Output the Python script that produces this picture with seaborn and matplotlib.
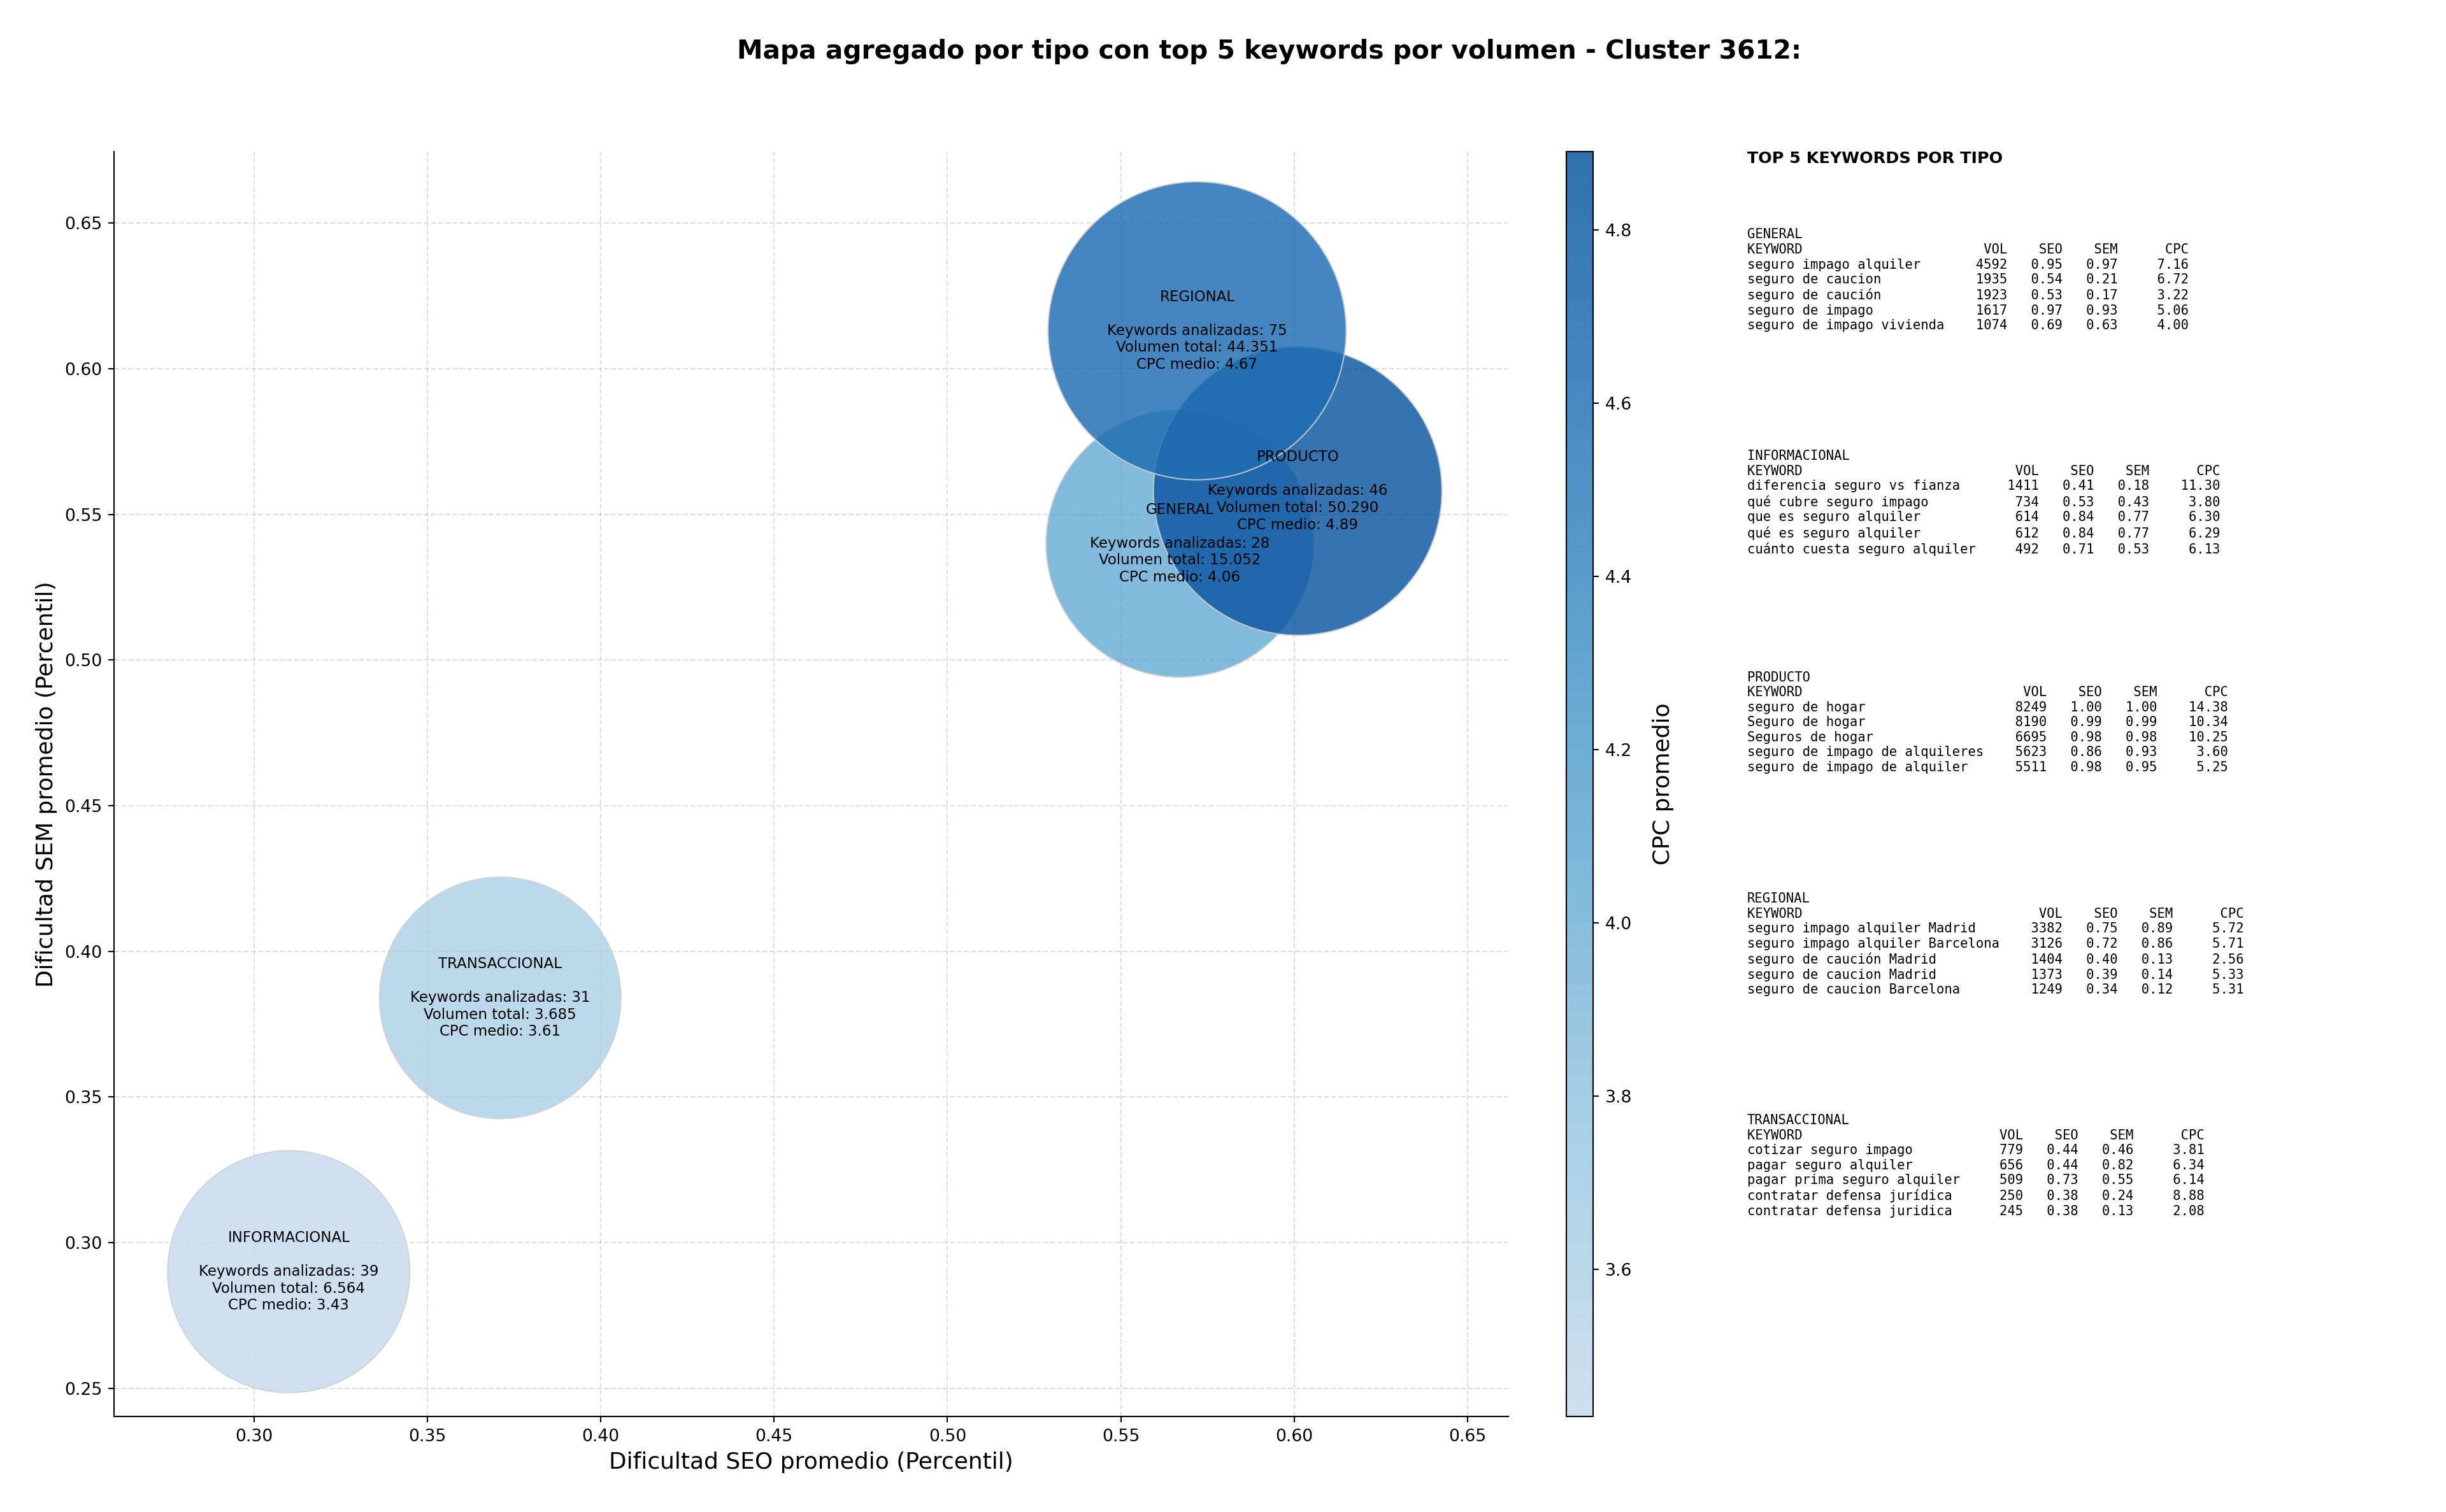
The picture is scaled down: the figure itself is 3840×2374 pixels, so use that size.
import numpy as np
import pandas as pd
import matplotlib
matplotlib.use("Agg")
import matplotlib.pyplot as plt
from matplotlib.colors import LinearSegmentedColormap, Normalize
import matplotlib.cm as cm
import seaborn as sns

# ---------------- data ----------------
tipos = ["GENERAL", "INFORMACIONAL", "PRODUCTO", "REGIONAL", "TRANSACCIONAL"]
seo_avg = [0.567, 0.310, 0.601, 0.572, 0.371]
sem_avg = [0.540, 0.290, 0.558, 0.613, 0.384]
n_keywords = [28, 39, 46, 75, 31]
vol_total = [15052, 6564, 50290, 44351, 3685]
cpc_avg = [4.06, 3.43, 4.89, 4.67, 3.61]
bubble_size = [24800, 20300, 28860, 30800, 20200]

top_keywords = {
    "GENERAL": ["seguro impago alquiler", "seguro de caucion", "seguro de caución",
                "seguro de impago", "seguro de impago vivienda"],
    "INFORMACIONAL": ["diferencia seguro vs fianza", "qué cubre seguro impago",
                      "que es seguro alquiler", "qué es seguro alquiler",
                      "cuánto cuesta seguro alquiler"],
    "PRODUCTO": ["seguro de hogar", "Seguro de hogar", "Seguros de hogar",
                 "seguro de impago de alquileres", "seguro de impago de alquiler"],
    "REGIONAL": ["seguro impago alquiler Madrid", "seguro impago alquiler Barcelona",
                 "seguro de caución Madrid", "seguro de caucion Madrid",
                 "seguro de caucion Barcelona"],
    "TRANSACCIONAL": ["cotizar seguro impago", "pagar seguro alquiler",
                      "pagar prima seguro alquiler", "contratar defensa jurídica",
                      "contratar defensa juridica"],
}
top_vol = {
    "GENERAL": [4592, 1935, 1923, 1617, 1074],
    "INFORMACIONAL": [1411, 734, 614, 612, 492],
    "PRODUCTO": [8249, 8190, 6695, 5623, 5511],
    "REGIONAL": [3382, 3126, 1404, 1373, 1249],
    "TRANSACCIONAL": [779, 656, 509, 250, 245],
}
top_seo = {
    "GENERAL": [0.95, 0.54, 0.53, 0.97, 0.69],
    "INFORMACIONAL": [0.41, 0.53, 0.84, 0.84, 0.71],
    "PRODUCTO": [1.00, 0.99, 0.98, 0.86, 0.98],
    "REGIONAL": [0.75, 0.72, 0.40, 0.39, 0.34],
    "TRANSACCIONAL": [0.44, 0.44, 0.73, 0.38, 0.38],
}
top_sem = {
    "GENERAL": [0.97, 0.21, 0.17, 0.93, 0.63],
    "INFORMACIONAL": [0.18, 0.43, 0.77, 0.77, 0.53],
    "PRODUCTO": [1.00, 0.99, 0.98, 0.93, 0.95],
    "REGIONAL": [0.89, 0.86, 0.13, 0.14, 0.12],
    "TRANSACCIONAL": [0.46, 0.82, 0.55, 0.24, 0.13],
}
top_cpc = {
    "GENERAL": [7.16, 6.72, 3.22, 5.06, 4.00],
    "INFORMACIONAL": [11.30, 3.80, 6.30, 6.29, 6.13],
    "PRODUCTO": [14.38, 10.34, 10.25, 3.60, 5.25],
    "REGIONAL": [5.72, 5.71, 2.56, 5.33, 5.31],
    "TRANSACCIONAL": [3.81, 6.34, 6.14, 8.88, 2.08],
}

df = pd.DataFrame({
    "tipo": tipos, "seo": seo_avg, "sem": sem_avg, "n": n_keywords,
    "vol": vol_total, "cpc": cpc_avg, "size": bubble_size,
})

# ---------------- figure ----------------
DPI = 192
sns.set_style("ticks", rc={
    "axes.edgecolor": "black", "xtick.color": "black", "ytick.color": "black",
    "text.color": "black", "axes.labelcolor": "black",
})
plt.rcParams["font.family"] = ["DejaVu Sans"]
fig = plt.figure(figsize=(3840 / DPI, 2374 / DPI), dpi=DPI)

ax = fig.add_axes([0.0466, 0.0632, 0.5701, 0.8365])
cax = fig.add_axes([0.6404, 0.0632, 0.0109, 0.8365])

base = plt.get_cmap("Blues")
cmap = LinearSegmentedColormap.from_list("blues_trunc", base(np.linspace(0.25, 0.85, 256)))
vmin, vmax = min(cpc_avg), max(cpc_avg)
norm = Normalize(vmin=vmin, vmax=vmax)

sizes_map = {t: s for t, s in zip(df["tipo"], df["size"])}
sns.scatterplot(data=df, x="seo", y="sem", hue="cpc", palette=cmap,
                hue_norm=(vmin, vmax), size="tipo", sizes=sizes_map,
                alpha=0.83, edgecolor="#cfcfcf", linewidth=0.8,
                legend=False, ax=ax, zorder=3)

for _, r in df.iterrows():
    vol_str = f"{int(r['vol']):,}".replace(",", ".")
    label = (f"{r['tipo']}\n\nKeywords analizadas: {int(r['n'])}\n"
             f"Volumen total: {vol_str}\nCPC medio: {r['cpc']:.2f}")
    ax.text(r["seo"], r["sem"], label, ha="center", va="center",
            multialignment="center", fontsize=8.6, color="black", zorder=5)

ax.set_xlim(0.2596, 0.6618)
ax.set_ylim(0.2403, 0.6745)
ax.set_xticks(np.arange(0.30, 0.651, 0.05))
ax.set_yticks(np.arange(0.25, 0.651, 0.05))
ax.xaxis.set_major_formatter(matplotlib.ticker.FormatStrFormatter("%.2f"))
ax.yaxis.set_major_formatter(matplotlib.ticker.FormatStrFormatter("%.2f"))
ax.tick_params(labelsize=10)
ax.grid(True, linestyle="--", color="#b0b0b0", alpha=0.4, zorder=0)
ax.set_axisbelow(True)
ax.set_xlabel("Dificultad SEO promedio (Percentil)", fontsize=13.5)
ax.set_ylabel("Dificultad SEM promedio (Percentil)", fontsize=13.5)
sns.despine(ax=ax)

sm = cm.ScalarMappable(norm=norm, cmap=cmap)
sm.set_array([])
cb = fig.colorbar(sm, cax=cax, alpha=0.85)
cb.ax.tick_params(labelsize=10)
cb.set_label("CPC promedio", fontsize=13.5, labelpad=12)

fig.text(0.519, 0.966, "Mapa agregado por tipo con top 5 keywords por volumen - Cluster 3612:",
         ha="center", va="center", fontsize=15.3, fontweight="bold")

# ---------------- right panel text ----------------
fig.text(0.7143, 0.900, "TOP 5 KEYWORDS POR TIPO", ha="left", va="top",
         fontsize=9.5, fontweight="bold")
block_tops = [0.849, 0.7025, 0.5562, 0.4097, 0.2632]
for t, ytop in zip(tipos, block_tops):
    kws = top_keywords[t]
    w = max(len(k) for k in kws)
    lines = [t, f"{'KEYWORD':<{w}}{'VOL':>8}{'SEO':>7}{'SEM':>7}{'CPC':>9}"]
    for k, v, s1, s2, c in zip(kws, top_vol[t], top_seo[t], top_sem[t], top_cpc[t]):
        lines.append(f"{k:<{w}}{v:>8}{s1:>7.2f}{s2:>7.2f}{c:>9.2f}")
    fig.text(0.7143, ytop, "\n".join(lines), ha="left", va="top",
             fontsize=7.7, family="DejaVu Sans Mono", linespacing=1.22)

fig.savefig("out.png", dpi=DPI)
